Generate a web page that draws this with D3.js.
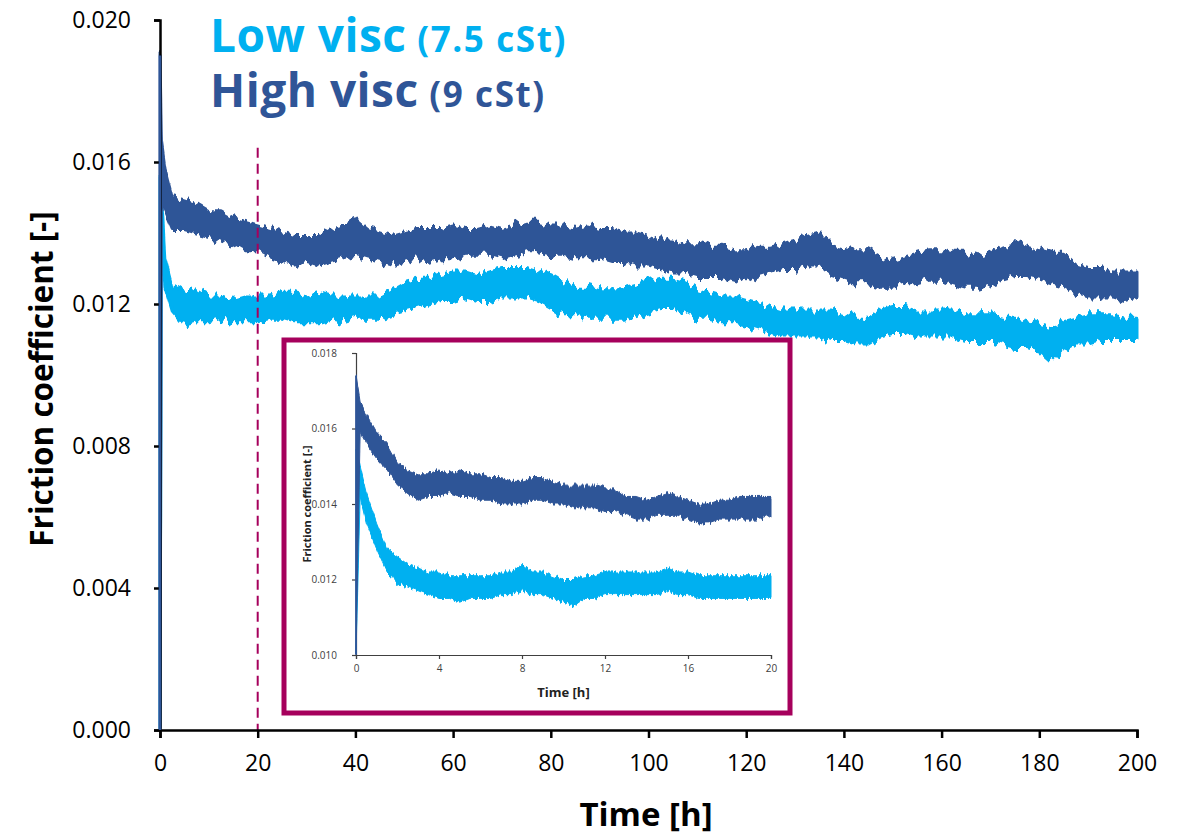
<!DOCTYPE html>
<html>
<head>
<meta charset="utf-8">
<script src="https://cdn.jsdelivr.net/npm/d3@7"></script>
<style>
  html, body { margin: 0; padding: 0; background: #fff; }
  svg { display: block; }
</style>
</head>
<body>
<svg id="chart" width="1180" height="837"></svg>
<script>
// ---- Long run (0-200 h): band of friction coefficient (lower / upper envelope)
const hours = [0, 0.3, 1, 2.5, 5, 7.5, 10, 12.5, 15, 17.5, 20, 22.5, 25, 27.5, 30, 32.5, 35, 37.5, 40,
  42.5, 45, 47.5, 50, 52.5, 55, 57.5, 60, 62.5, 65, 67.5, 70, 72.5, 75, 77.5, 80, 82.5, 85, 87.5, 90,
  92.5, 95, 97.5, 100, 102.5, 105, 107.5, 110, 112.5, 115, 117.5, 120, 122.5, 125, 127.5, 130, 132.5,
  135, 137.5, 140, 142.5, 145, 147.5, 150, 152.5, 155, 157.5, 160, 162.5, 165, 167.5, 170, 172.5, 175,
  177.5, 180, 182.5, 185, 187.5, 190, 192.5, 195, 197.5, 200];

const highViscHi = [0.0190, 0.0165, 0.0158, 0.0150, 0.0149, 0.0148, 0.0146, 0.0146, 0.0144, 0.0143, 0.0142,
  0.0141, 0.0140, 0.0139, 0.0139, 0.0139, 0.0141, 0.0142, 0.0144, 0.0141, 0.0140, 0.0139, 0.0140,
  0.0141, 0.0141, 0.0141, 0.0142, 0.0141, 0.0141, 0.0142, 0.0141, 0.0142, 0.0143, 0.0143, 0.0142,
  0.0142, 0.0141, 0.0142, 0.0141, 0.0141, 0.0140, 0.0140, 0.0139, 0.0138, 0.0138, 0.0137, 0.0137,
  0.0136, 0.0136, 0.0135, 0.0135, 0.0136, 0.0136, 0.0137, 0.0138, 0.0139, 0.0140, 0.0137, 0.0136,
  0.0135, 0.0135, 0.0133, 0.0132, 0.0133, 0.0134, 0.0135, 0.0135, 0.0134, 0.0134, 0.0133, 0.0134,
  0.0136, 0.0137, 0.0136, 0.0135, 0.0134, 0.0134, 0.0131, 0.0130, 0.0130, 0.0129, 0.0129, 0.0129];
const highViscLo = [0.0000, 0.0155, 0.0146, 0.0141, 0.0141, 0.0140, 0.0139, 0.0138, 0.0137, 0.0135, 0.0135,
  0.0133, 0.0132, 0.0131, 0.0132, 0.0131, 0.0132, 0.0133, 0.0134, 0.0133, 0.0132, 0.0131, 0.0132,
  0.0133, 0.0132, 0.0133, 0.0133, 0.0134, 0.0134, 0.0134, 0.0133, 0.0134, 0.0135, 0.0135, 0.0134,
  0.0134, 0.0133, 0.0133, 0.0133, 0.0132, 0.0132, 0.0131, 0.0131, 0.0130, 0.0129, 0.0129, 0.0128,
  0.0128, 0.0128, 0.0127, 0.0126, 0.0128, 0.0129, 0.0130, 0.0130, 0.0131, 0.0131, 0.0128, 0.0127,
  0.0126, 0.0126, 0.0125, 0.0125, 0.0126, 0.0126, 0.0127, 0.0127, 0.0126, 0.0125, 0.0125, 0.0126,
  0.0127, 0.0128, 0.0128, 0.0127, 0.0126, 0.0125, 0.0123, 0.0122, 0.0122, 0.0122, 0.0121, 0.0122];

const lowViscHi = [0.0155, 0.0150, 0.0133, 0.0125, 0.0123, 0.0124, 0.0122, 0.0122, 0.0121, 0.0122, 0.0122,
  0.0122, 0.0123, 0.0123, 0.0122, 0.0123, 0.0122, 0.0122, 0.0122, 0.0122, 0.0122, 0.0124, 0.0126,
  0.0127, 0.0127, 0.0128, 0.0129, 0.0129, 0.0128, 0.0129, 0.0130, 0.0130, 0.0130, 0.0129, 0.0128,
  0.0126, 0.0125, 0.0125, 0.0124, 0.0124, 0.0124, 0.0125, 0.0126, 0.0127, 0.0127, 0.0126, 0.0124,
  0.0123, 0.0122, 0.0122, 0.0121, 0.0120, 0.0119, 0.0118, 0.0118, 0.0118, 0.0118, 0.0118, 0.0117,
  0.0116, 0.0116, 0.0118, 0.0119, 0.0119, 0.0118, 0.0118, 0.0118, 0.0118, 0.0117, 0.0117, 0.0117,
  0.0116, 0.0116, 0.0115, 0.0114, 0.0113, 0.0115, 0.0116, 0.0117, 0.0117, 0.0117, 0.0116, 0.0116];
const lowViscLo = [0.0000, 0.0140, 0.0125, 0.0118, 0.0114, 0.0115, 0.0115, 0.0116, 0.0115, 0.0115, 0.0115,
  0.0116, 0.0116, 0.0115, 0.0115, 0.0115, 0.0116, 0.0115, 0.0116, 0.0116, 0.0116, 0.0117, 0.0118,
  0.0119, 0.0120, 0.0121, 0.0121, 0.0122, 0.0121, 0.0121, 0.0122, 0.0122, 0.0122, 0.0121, 0.0119,
  0.0117, 0.0117, 0.0116, 0.0116, 0.0116, 0.0116, 0.0117, 0.0118, 0.0119, 0.0119, 0.0118, 0.0116,
  0.0116, 0.0115, 0.0115, 0.0114, 0.0113, 0.0112, 0.0111, 0.0111, 0.0111, 0.0111, 0.0110, 0.0110,
  0.0109, 0.0109, 0.0111, 0.0112, 0.0112, 0.0111, 0.0111, 0.0111, 0.0111, 0.0110, 0.0110, 0.0110,
  0.0109, 0.0108, 0.0108, 0.0107, 0.0104, 0.0107, 0.0109, 0.0109, 0.0110, 0.0110, 0.0110, 0.0110];

const xTicks = [0, 20, 40, 60, 80, 100, 120, 140, 160, 180, 200];
const yTicks = [0, 0.004, 0.008, 0.012, 0.016, 0.020];
const markerHour = 20;

// ---- First 20 h (inset)
const insetHours = [0, 0.2, 0.5, 1, 1.5, 2, 2.5, 3, 3.5, 4, 4.5, 5, 5.5, 6, 6.5, 7, 7.5, 8, 8.5, 9, 9.5,
  10, 10.5, 11, 11.5, 12, 12.5, 13, 13.5, 14, 14.5, 15, 15.5, 16, 16.5, 17, 17.5, 18, 18.5, 19, 19.5, 20];
const insetHighHi = [0.0174, 0.0167, 0.0164, 0.0159, 0.0156, 0.0151, 0.0149, 0.0148, 0.0148, 0.0149, 0.0148,
  0.0149, 0.0148, 0.0148, 0.0147, 0.0147, 0.0146, 0.0146, 0.0147, 0.0147, 0.0146, 0.0145, 0.0145, 0.0145,
  0.0145, 0.0144, 0.0144, 0.0142, 0.0142, 0.0141, 0.0142, 0.0143, 0.0142, 0.0141, 0.0140, 0.0140, 0.0141,
  0.0141, 0.0142, 0.0142, 0.0142, 0.0142];
const insetHighLo = [0.0100, 0.0159, 0.0156, 0.0152, 0.0149, 0.0145, 0.0143, 0.0141, 0.0142, 0.0142, 0.0143,
  0.0142, 0.0142, 0.0141, 0.0141, 0.0140, 0.0140, 0.0140, 0.0141, 0.0141, 0.0140, 0.0140, 0.0139, 0.0139,
  0.0139, 0.0138, 0.0138, 0.0137, 0.0136, 0.0136, 0.0137, 0.0137, 0.0137, 0.0136, 0.0135, 0.0135, 0.0136,
  0.0136, 0.0136, 0.0136, 0.0136, 0.0137];
const insetLowHi = [0.0155, 0.0150, 0.0143, 0.0135, 0.0128, 0.0126, 0.0124, 0.0123, 0.0122, 0.0122, 0.0121,
  0.0121, 0.0121, 0.0121, 0.0121, 0.0122, 0.0122, 0.0124, 0.0122, 0.0122, 0.0121, 0.0120, 0.0120, 0.0121,
  0.0121, 0.0122, 0.0122, 0.0122, 0.0122, 0.0122, 0.0122, 0.0123, 0.0122, 0.0122, 0.0121, 0.0121, 0.0121,
  0.0121, 0.0121, 0.0121, 0.0121, 0.0121];
const insetLowLo = [0.0100, 0.0142, 0.0135, 0.0128, 0.0122, 0.0119, 0.0118, 0.0117, 0.0116, 0.0115, 0.0115,
  0.0114, 0.0115, 0.0115, 0.0115, 0.0116, 0.0116, 0.0117, 0.0116, 0.0116, 0.0115, 0.0114, 0.0113, 0.0115,
  0.0115, 0.0116, 0.0116, 0.0116, 0.0116, 0.0116, 0.0116, 0.0117, 0.0116, 0.0116, 0.0115, 0.0115, 0.0115,
  0.0115, 0.0115, 0.0115, 0.0115, 0.0115];
const insetXTicks = [0, 4, 8, 12, 16, 20];
const insetYTicks = [0.010, 0.012, 0.014, 0.016, 0.018];

const COLOR_LOW = "#00b0f0";
const COLOR_HIGH = "#2f5597";
const COLOR_MARK = "#a6005c";
const FONT = "'Open Sans', 'Noto Sans', sans-serif";

const svg = d3.select("#chart");

// ragged-edge texture for the measured bands (vertical jitter of the outline only)
const defs = svg.append("defs");
function ragged(id, freqX, amount) {
  const f = defs.append("filter").attr("id", id)
    .attr("filterUnits", "userSpaceOnUse")
    .attr("x", 0).attr("y", 0).attr("width", 1180).attr("height", 837);
  f.append("feTurbulence").attr("type", "fractalNoise")
    .attr("baseFrequency", `${freqX} 0.03`).attr("numOctaves", 2).attr("seed", 3)
    .attr("result", "tex");
  f.append("feColorMatrix").attr("in", "tex").attr("type", "matrix")
    .attr("values", "0 0 0 0 0.5  0 1 0 0 0  0 0 0 0 0  0 0 0 0 1")
    .attr("result", "shift");
  f.append("feDisplacementMap").attr("in", "SourceGraphic").attr("in2", "shift")
    .attr("scale", amount).attr("xChannelSelector", "R").attr("yChannelSelector", "G");
}
ragged("raggedMain", 0.22, 16);
ragged("raggedInset", 0.45, 9);

function band(t, lo, hi) {
  return t.map((d, i) => ({ t: d, lo: lo[i], hi: hi[i] }));
}

// ---------------- main chart ----------------
const x = d3.scaleLinear().domain([0, 200]).range([160, 1137]);
const y = d3.scaleLinear().domain([0, 0.020]).range([730, 20]);

const area = d3.area().x(d => x(d.t)).y0(d => y(d.lo)).y1(d => y(d.hi));

const mainSeries = svg.append("g").attr("filter", "url(#raggedMain)");
mainSeries.append("path")
  .datum(band(hours, lowViscLo, lowViscHi))
  .attr("d", area)
  .attr("fill", COLOR_LOW).attr("stroke", COLOR_LOW).attr("stroke-width", 3)
  .attr("stroke-linejoin", "round");
mainSeries.append("path")
  .datum(band(hours, highViscLo, highViscHi))
  .attr("d", area)
  .attr("fill", COLOR_HIGH).attr("stroke", COLOR_HIGH).attr("stroke-width", 3)
  .attr("stroke-linejoin", "round");

// dashed line at end of the zoomed window
svg.append("line")
  .attr("x1", x(markerHour)).attr("x2", x(markerHour))
  .attr("y1", y(0.0164)).attr("y2", y(0))
  .attr("stroke", COLOR_MARK).attr("stroke-width", 2)
  .attr("stroke-dasharray", "10,6");

// axes
const xAxis = svg.append("g")
  .attr("transform", `translate(0,${y(0)})`)
  .call(d3.axisBottom(x).tickValues(xTicks).tickSize(8).tickPadding(17).tickFormat(d3.format("d")));
const yAxis = svg.append("g")
  .attr("transform", `translate(${x(0)},0)`)
  .call(d3.axisLeft(y).tickValues(yTicks).tickSize(6).tickPadding(23).tickFormat(d3.format(".3f")));

[xAxis, yAxis].forEach(g => {
  g.select(".domain").attr("stroke", "#000").attr("stroke-width", 2.5);
  g.selectAll(".tick line").attr("stroke", "#000").attr("stroke-width", 2.5);
  g.selectAll(".tick text").attr("fill", "#000")
    .style("font-family", FONT).style("font-size", "23px");
});
// the data line at t = 0 sits on the y-axis
svg.append("line")
  .attr("x1", x(0)).attr("x2", x(0)).attr("y1", y(0)).attr("y2", y(0.019))
  .attr("stroke", COLOR_HIGH).attr("stroke-width", 2.5);

svg.append("text")
  .attr("x", 646).attr("y", 826)
  .attr("text-anchor", "middle")
  .style("font-family", FONT)
  .style("font-weight", "bold").style("font-size", "33px")
  .text("Time [h]");

svg.append("text")
  .attr("transform", `translate(53,${(y(0) + y(0.02)) / 2 + 4}) rotate(-90)`)
  .attr("text-anchor", "middle")
  .style("font-family", FONT)
  .style("font-weight", "bold").style("font-size", "31.5px")
  .text("Friction coefficient [-]");

// legend
const legend = [
  { name: "Low visc", unit: " (7.5 cSt)", color: COLOR_LOW, y: 52 },
  { name: "High visc", unit: " (9 cSt)", color: COLOR_HIGH, y: 107 }
];
legend.forEach(l => {
  const t = svg.append("text")
    .attr("x", 210).attr("y", l.y)
    .attr("fill", l.color)
    .style("font-family", FONT)
    .style("font-weight", "bold");
  t.append("tspan").style("font-size", "46px").style("letter-spacing", "0.5px").text(l.name);
  t.append("tspan").style("font-size", "35px").style("letter-spacing", "1.6px").text(l.unit);
});

// ---------------- inset (first 20 h) ----------------
svg.append("rect")
  .attr("x", 284).attr("y", 340).attr("width", 506).attr("height", 373)
  .attr("fill", "#fff").attr("stroke", COLOR_MARK).attr("stroke-width", 5);

const xi = d3.scaleLinear().domain([0, 20]).range([356, 771]);
const yi = d3.scaleLinear().domain([0.010, 0.018]).range([655, 353]);

const areaI = d3.area().x(d => xi(d.t)).y0(d => yi(d.lo)).y1(d => yi(d.hi));

const ixAxis = svg.append("g")
  .attr("transform", `translate(0,${yi(0.010)})`)
  .call(d3.axisBottom(xi).tickValues(insetXTicks).tickSize(4).tickPadding(6).tickFormat(d3.format("d")));
const iyAxis = svg.append("g")
  .attr("transform", `translate(${xi(0)},0)`)
  .call(d3.axisLeft(yi).tickValues(insetYTicks).tickSize(4).tickPadding(15).tickFormat(d3.format(".3f")));
[ixAxis, iyAxis].forEach(g => {
  g.select(".domain").attr("stroke", "#404040").attr("stroke-width", 1.2);
  g.selectAll(".tick line").attr("stroke", "#404040").attr("stroke-width", 1.2);
  g.selectAll(".tick text").attr("fill", "#404040")
    .style("font-family", FONT).style("font-size", "10px");
});

const insetSeries = svg.append("g").attr("filter", "url(#raggedInset)");
insetSeries.append("path")
  .datum(band(insetHours, insetLowLo, insetLowHi))
  .attr("d", areaI)
  .attr("fill", COLOR_LOW).attr("stroke", COLOR_LOW).attr("stroke-width", 1);
insetSeries.append("path")
  .datum(band(insetHours, insetHighLo, insetHighHi))
  .attr("d", areaI)
  .attr("fill", COLOR_HIGH).attr("stroke", COLOR_HIGH).attr("stroke-width", 1);
svg.append("line")
  .attr("x1", xi(0)).attr("x2", xi(0)).attr("y1", yi(0.010)).attr("y2", yi(0.0174))
  .attr("stroke", COLOR_HIGH).attr("stroke-width", 1.5);

svg.append("text")
  .attr("x", (xi(0) + xi(20)) / 2).attr("y", 697)
  .attr("text-anchor", "middle").attr("fill", "#222")
  .style("font-family", FONT)
  .style("font-weight", "bold").style("font-size", "13px")
  .text("Time [h]");
svg.append("text")
  .attr("transform", `translate(311,${(yi(0.010) + yi(0.018)) / 2}) rotate(-90)`)
  .attr("text-anchor", "middle").attr("fill", "#222")
  .style("font-family", FONT)
  .style("font-weight", "bold").style("font-size", "11px")
  .text("Friction coefficient [-]");
</script>
</body>
</html>
